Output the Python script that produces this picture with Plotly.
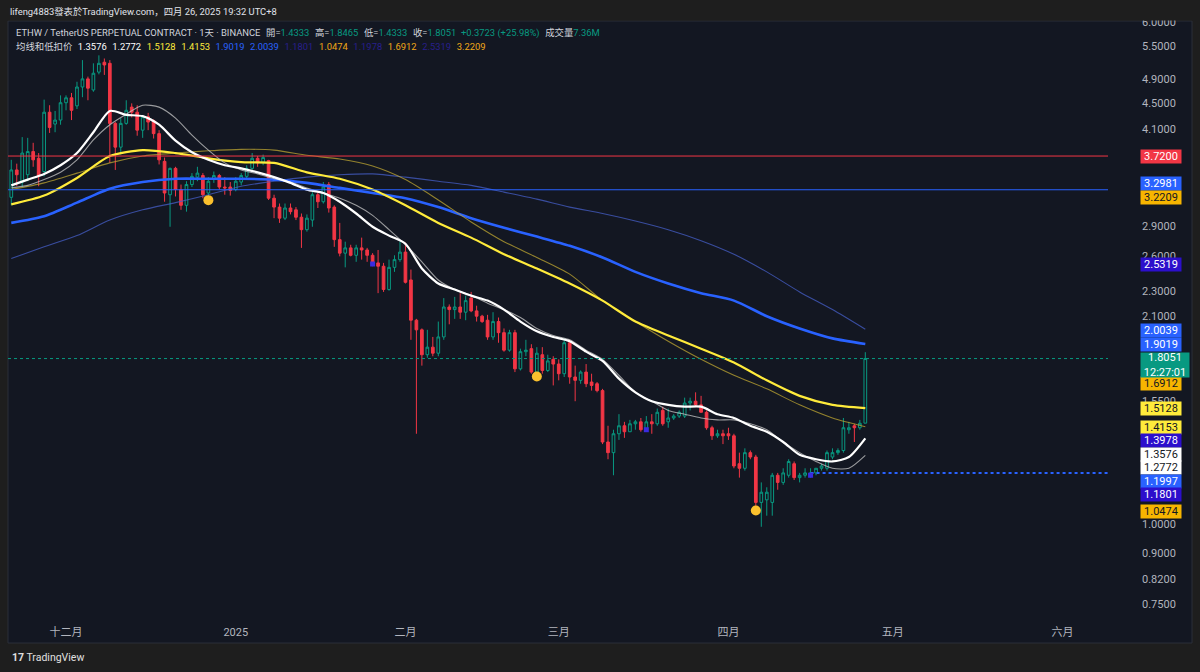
import numpy as np
import pandas as pd
import plotly.graph_objects as go

# ---------------- data ----------------
dates = pd.date_range("2024-11-21", "2025-04-26", freq="D")

open_ = [
    # Nov 21-30
    3.21, 3.54, 3.39, 3.48, 3.78, 3.69, 3.52, 4.35, 4.17, 4.23,
    # Dec
    4.50, 4.58, 4.45, 4.76, 4.90, 4.71, 5.02, 5.20, 5.18, 4.18,
    3.84, 4.18, 4.43, 4.35, 4.08, 4.28, 4.22, 4.03, 3.65, 3.24,
    3.56, 3.30, 3.12, 3.36, 3.45, 3.47, 3.26, 3.43, 3.47, 3.33, 3.33,
    # Jan
    3.30, 3.39, 3.46, 3.56, 3.69, 3.64, 3.66, 3.20, 3.10, 2.98,
    3.09, 3.07, 2.99, 2.86, 2.96, 3.24, 3.16, 3.36, 3.10, 2.76,
    2.63, 2.68, 2.61, 2.68, 2.66, 2.61, 2.54, 2.51, 2.31, 2.50, 2.57,
    # Feb
    2.64, 2.39, 2.07, 2.00, 1.83, 1.88, 1.84, 1.95, 2.17, 2.15,
    2.17, 2.13, 2.24, 2.14, 2.10, 2.07, 1.95, 2.06, 1.98, 1.86,
    1.98, 1.74, 1.85, 1.87, 1.72, 1.83, 1.73, 1.80,
    # Mar
    1.77, 1.71, 1.91, 1.69, 1.67, 1.72, 1.66, 1.65, 1.61, 1.34,
    1.29, 1.38, 1.42, 1.39, 1.43, 1.44, 1.40, 1.44, 1.43, 1.50,
    1.44, 1.46, 1.47, 1.47, 1.54, 1.55, 1.53, 1.49, 1.41, 1.37, 1.38,
    # Apr 1-26
    1.38, 1.37, 1.24, 1.22, 1.29, 1.27, 1.08, 1.09, 1.08, 1.19,
    1.16, 1.19, 1.24, 1.18, 1.19, 1.19, 1.20, 1.22, 1.22, 1.27,
    1.29, 1.30, 1.40, 1.42, 1.41, 1.4333,
]
high_ = [
    3.67, 3.62, 3.98, 3.97, 3.90, 3.76, 4.55, 4.46, 4.37, 4.62,
    4.62, 4.66, 4.85, 5.24, 4.94, 5.18, 5.33, 5.27, 5.24, 4.20,
    4.26, 4.54, 4.49, 4.46, 4.30, 4.34, 4.24, 4.08, 3.70, 3.57,
    3.58, 3.36, 3.40, 3.50, 3.58, 3.50, 3.45, 3.52, 3.49, 3.45, 3.39,
    3.45, 3.50, 3.60, 3.76, 3.72, 3.74, 3.67, 3.24, 3.14, 3.14,
    3.14, 3.10, 3.03, 3.02, 3.27, 3.27, 3.39, 3.39, 3.12, 2.93,
    2.74, 2.71, 2.71, 2.78, 2.68, 2.63, 2.66, 2.54, 2.57, 2.61, 2.74,
    2.73, 2.48, 2.08, 2.01, 2.00, 1.95, 2.06, 2.24, 2.19, 2.25,
    2.28, 2.26, 2.29, 2.18, 2.11, 2.11, 2.13, 2.09, 2.01, 2.00,
    2.00, 1.87, 1.93, 1.90, 1.88, 1.88, 1.83, 1.82,
    1.80, 1.94, 1.93, 1.76, 1.73, 1.77, 1.71, 1.66, 1.62, 1.42,
    1.40, 1.48, 1.44, 1.45, 1.45, 1.46, 1.47, 1.48, 1.51, 1.52,
    1.51, 1.48, 1.50, 1.57, 1.57, 1.60, 1.58, 1.50, 1.42, 1.40, 1.40,
    1.41, 1.38, 1.29, 1.31, 1.30, 1.28, 1.16, 1.14, 1.20, 1.20,
    1.22, 1.26, 1.25, 1.20, 1.22, 1.22, 1.22, 1.24, 1.30, 1.31,
    1.31, 1.46, 1.44, 1.43, 1.45, 1.8465,
]
low_ = [
    3.12, 3.34, 3.33, 3.40, 3.58, 3.34, 3.46, 4.04, 4.05, 4.16,
    4.38, 4.23, 4.40, 4.59, 4.54, 4.68, 4.98, 4.97, 3.63, 3.54,
    3.74, 4.16, 4.27, 4.00, 3.97, 4.08, 3.96, 3.61, 3.16, 2.89,
    3.22, 3.07, 3.05, 3.33, 3.40, 3.20, 3.21, 3.38, 3.30, 3.24, 3.23,
    3.28, 3.35, 3.42, 3.54, 3.58, 3.60, 3.18, 2.98, 2.93, 2.96,
    3.02, 2.96, 2.68, 2.84, 2.89, 3.09, 3.14, 3.04, 2.69, 2.60,
    2.50, 2.60, 2.55, 2.57, 2.55, 2.51, 2.28, 2.29, 2.30, 2.46, 2.55,
    2.36, 1.93, 1.38, 1.76, 1.81, 1.82, 1.82, 1.93, 2.04, 2.08,
    2.08, 2.07, 2.13, 2.06, 2.05, 1.93, 1.93, 1.91, 1.85, 1.85,
    1.72, 1.73, 1.82, 1.71, 1.71, 1.71, 1.72, 1.64,
    1.67, 1.69, 1.65, 1.55, 1.65, 1.63, 1.61, 1.60, 1.33, 1.26,
    1.19, 1.35, 1.36, 1.39, 1.40, 1.39, 1.39, 1.38, 1.42, 1.42,
    1.41, 1.45, 1.46, 1.46, 1.50, 1.52, 1.49, 1.40, 1.35, 1.36, 1.33,
    1.35, 1.22, 1.18, 1.21, 1.26, 1.06, 0.99, 1.03, 1.03, 1.13,
    1.15, 1.18, 1.17, 1.16, 1.18, 1.18, 1.19, 1.21, 1.21, 1.26,
    1.28, 1.29, 1.38, 1.34, 1.40, 1.4333,
]
close_ = [
    3.54, 3.48, 3.76, 3.78, 3.67, 3.46, 4.35, 4.12, 4.23, 4.50,
    4.58, 4.38, 4.76, 4.90, 4.74, 5.00, 5.18, 5.15, 4.18, 3.84,
    4.18, 4.38, 4.35, 4.08, 4.28, 4.20, 4.03, 3.67, 3.26, 3.56,
    3.30, 3.12, 3.36, 3.46, 3.50, 3.24, 3.40, 3.47, 3.33, 3.32, 3.29,
    3.40, 3.47, 3.56, 3.69, 3.63, 3.70, 3.20, 3.10, 2.98, 3.09,
    3.05, 2.99, 2.86, 2.98, 3.24, 3.16, 3.33, 3.09, 2.76, 2.63,
    2.68, 2.61, 2.68, 2.66, 2.61, 2.53, 2.51, 2.31, 2.50, 2.57, 2.64,
    2.37, 2.07, 2.00, 1.83, 1.88, 1.84, 1.95, 2.17, 2.15, 2.17,
    2.13, 2.22, 2.14, 2.10, 2.06, 1.95, 2.06, 1.98, 1.86, 1.98,
    1.74, 1.85, 1.86, 1.72, 1.84, 1.73, 1.79, 1.77,
    1.71, 1.91, 1.69, 1.67, 1.72, 1.65, 1.64, 1.61, 1.34, 1.29,
    1.38, 1.42, 1.39, 1.43, 1.44, 1.40, 1.44, 1.43, 1.49, 1.43,
    1.46, 1.47, 1.49, 1.54, 1.55, 1.53, 1.49, 1.41, 1.37, 1.38, 1.37,
    1.37, 1.23, 1.22, 1.29, 1.27, 1.08, 1.12, 1.12, 1.19, 1.16,
    1.20, 1.25, 1.18, 1.19, 1.20, 1.20, 1.22, 1.23, 1.29, 1.29,
    1.30, 1.41, 1.41, 1.41, 1.4328, 1.8051,
]
volume_text = "7.36M"
countdown = "12:27:01"

ma_dates_3d = pd.date_range("2024-11-21", "2025-04-26", freq="3D")
ma_dates_6d = pd.date_range("2024-11-21", "2025-04-26", freq="6D")
ma_white = [3.35, 3.42, 3.49, 3.60, 3.76, 4.05, 4.37, 4.31, 4.29, 4.16,
            3.93, 3.77, 3.67, 3.60, 3.56, 3.51, 3.45, 3.38, 3.30, 3.26,
            3.16, 3.03, 2.89, 2.80, 2.72, 2.49, 2.36, 2.31, 2.26, 2.22,
            2.15, 2.06, 1.99, 1.95, 1.92, 1.85, 1.79, 1.68, 1.60, 1.55,
            1.53, 1.52, 1.52, 1.48, 1.46, 1.42, 1.39, 1.34, 1.28, 1.26,
            1.25, 1.27, 1.3576]
ma_gray = [3.32, 3.35, 3.42, 3.51, 3.67, 3.94, 4.16, 4.32, 4.46, 4.43,
           4.26, 4.01, 3.80, 3.63, 3.54, 3.49, 3.43, 3.39, 3.32, 3.26,
           3.20, 3.12, 3.01, 2.86, 2.71, 2.55, 2.39, 2.31, 2.26, 2.20,
           2.15, 2.09, 2.01, 1.96, 1.93, 1.86, 1.80, 1.70, 1.60, 1.55,
           1.50, 1.48, 1.46, 1.45, 1.45, 1.43, 1.40, 1.34, 1.29, 1.25,
           1.22, 1.22, 1.2772]
ma_yellow = [3.13, 3.23, 3.44, 3.72, 3.80, 3.76, 3.69, 3.64, 3.63, 3.51,
             3.43, 3.30, 3.12, 2.93, 2.78, 2.62, 2.49, 2.36, 2.22, 2.06,
             1.96, 1.87, 1.78, 1.67, 1.58, 1.53, 1.5128]
ma_olive = [3.30, 3.38, 3.50, 3.63, 3.72, 3.76, 3.79, 3.81, 3.80, 3.73,
            3.68, 3.59, 3.42, 3.18, 2.94, 2.74, 2.59, 2.44, 2.22, 2.06,
            1.92, 1.80, 1.70, 1.62, 1.53, 1.46, 1.4153]
ma_blue = [2.93, 3.00, 3.15, 3.31, 3.39, 3.43, 3.43, 3.43, 3.42, 3.38,
           3.32, 3.26, 3.20, 3.10, 2.98, 2.88, 2.79, 2.70, 2.59, 2.46,
           2.36, 2.28, 2.22, 2.10, 2.01, 1.94, 1.9019]
ma_blue_thin = [2.58, 2.69, 2.80, 2.96, 3.07, 3.15, 3.24, 3.34, 3.40, 3.45,
                3.48, 3.49, 3.45, 3.40, 3.35, 3.27, 3.19, 3.10, 3.03, 2.95,
                2.86, 2.75, 2.62, 2.46, 2.29, 2.15, 2.0039]

# horizontal levels
level_red = 3.72
level_blue = 3.2981
level_support = 1.1997
support_start = "2025-04-16"

# markers
low_dot_dates = ["2024-12-27", "2025-02-25", "2025-04-06"]
mark_dates = ["2025-01-26", "2025-03-17", "2025-04-16"]

# axes
month_ticks = ["2024-12-01", "2025-01-01", "2025-02-01", "2025-03-01",
               "2025-04-01", "2025-05-01", "2025-06-01"]
month_text = ["十二月", "2025", "二月", "三月", "四月", "五月", "六月"]
price_ticks = [6.0, 5.5, 4.9, 4.5, 4.1, 2.9, 2.6, 2.3, 2.1, 1.55, 1.0, 0.9, 0.82, 0.75]

# right-hand price labels
label_values = [3.72, 3.2981, 3.2209, 2.5319, 2.0039, 1.9019, 1.6912, 1.5128,
                1.4153, 1.3978, 1.3576, 1.2772, 1.1997, 1.1801, 1.0474]
label_bg = ["#f23645", "#2962ff", "#f7b500", "#2c0fcc", "#2962ff", "#2962ff", "#f7b500",
            "#ffeb3b", "#ffeb3b", "#2c0fcc", "#ffffff", "#ffffff", "#2962ff", "#2c0fcc", "#f7b500"]
label_fg = ["#ffffff", "#ffffff", "#131722", "#ffffff", "#ffffff", "#ffffff", "#131722",
            "#131722", "#131722", "#ffffff", "#131722", "#131722", "#ffffff", "#ffffff", "#131722"]

# indicator legend row
legend_values = ["1.3576", "1.2772", "1.5128", "1.4153", "1.9019", "2.0039",
                 "1.1801", "1.0474", "1.1978", "1.6912", "2.5319", "3.2209"]
legend_colors = ["#ffffff", "#ffffff", "#ffeb3b", "#ffeb3b", "#2962ff", "#2962ff",
                 "#281f8c", "#f0a818", "#281f8c", "#f0a818", "#281f8c", "#f0a818"]

# ---------------- style ----------------
W, H = 1200, 672
ML, MR, MT, MB = 8, 92, 21, 52
PW, PH = W - ML - MR, H - MT - MB
BG_OUT = "#1e1e1e"
BG_PANEL = "#131722"
TXT = "#d1d4dc"
AX = "#b2b5be"
UP, DOWN = "#089981", "#f23645"
FONT = "Roboto, 'Noto Sans CJK SC', sans-serif"
HEAD_SIZE = 9.4

y_r0, y_r1 = np.log10(0.7097), np.log10(6.025)
x_r0, x_r1 = "2024-11-20 09:36", "2025-06-09 07:55"


def ypix(v):
    return MT + (y_r1 - np.log10(v)) * PH / (y_r1 - y_r0)


def ppaper(pix):
    return (H - MB - pix) / PH


def xpaper(pix):
    return (pix - ML) / PW


fig = go.Figure()

fig.add_trace(go.Candlestick(
    x=dates, open=open_, high=high_, low=low_, close=close_,
    increasing=dict(line=dict(color=UP, width=1), fillcolor="rgba(0,0,0,0)"),
    decreasing=dict(line=dict(color=DOWN, width=1), fillcolor=DOWN),
    whiskerwidth=0, hoverinfo="skip", showlegend=False))

line_specs = [
    (ma_dates_6d, ma_blue_thin, "rgba(70,95,200,0.75)", 1.1),
    (ma_dates_6d, ma_blue, "#2962ff", 2.6),
    (ma_dates_6d, ma_olive, "rgba(190,165,50,0.75)", 1.1),
    (ma_dates_6d, ma_yellow, "#ffeb3b", 2.2),
    (ma_dates_3d, ma_gray, "rgba(200,200,200,0.75)", 1.1),
    (ma_dates_3d, ma_white, "#ffffff", 2.2),
]
for xs, ys, col, w in line_specs:
    fig.add_trace(go.Scatter(x=xs, y=ys, mode="lines", hoverinfo="skip",
                             line=dict(color=col, width=w, shape="spline", smoothing=0.7),
                             showlegend=False))

# horizontal levels
for val, col, dash, w, x0 in [
    (level_red, "#f23645", "solid", 1, x_r0),
    (level_blue, "#2962ff", "solid", 1, x_r0),
    (close_[-1], UP, "dot", 1, x_r0),
    (level_support, "#2962ff", "dot", 2, support_start),
]:
    fig.add_trace(go.Scatter(x=[x0, x_r1], y=[val, val], mode="lines", hoverinfo="skip",
                             line=dict(color=col, width=w, dash=dash), showlegend=False))

# low markers
idx = {d.strftime("%Y-%m-%d"): i for i, d in enumerate(dates)}
fig.add_trace(go.Scatter(
    x=low_dot_dates, y=[low_[idx[d]] * 0.99 for d in low_dot_dates], mode="markers",
    marker=dict(color="#fbc02d", size=10), hoverinfo="skip", showlegend=False))
fig.add_trace(go.Scatter(
    x=mark_dates, y=[min(open_[idx[d]], close_[idx[d]]) for d in mark_dates], mode="markers",
    marker=dict(color="#3a2be0", size=5, symbol="square"), hoverinfo="skip", showlegend=False))

# ---------------- price labels (stacked like TradingView) ----------------
LH = 13.5
ann = []
last = close_[-1]
last_top = ypix(last) - 6.75
last_h = 24
tops = {}
bound = last_top
for v in sorted([v for v in label_values if v > last]):
    top = ypix(v) - LH / 2
    if top + LH > bound:
        top = bound - LH
    tops[v] = top
    bound = top
bound = last_top + last_h
for v in sorted([v for v in label_values if v < last], reverse=True):
    top = ypix(v) - LH / 2
    if top < bound:
        top = bound
    tops[v] = top
    bound = top + LH

BOX_X = xpaper(1140)
for v, bg, fg in zip(label_values, label_bg, label_fg):
    ann.append(dict(xref="paper", yref="paper", x=BOX_X, y=ppaper(tops[v]),
                    xanchor="left", yanchor="top", text=f"{v:.4f}", showarrow=False,
                    bgcolor=bg, font=dict(color=fg, size=11, family=FONT),
                    width=40, height=13, borderpad=0, align="center"))
ann.append(dict(xref="paper", yref="paper", x=BOX_X, y=ppaper(last_top),
                xanchor="left", yanchor="top", text=f"{last:.4f}<br>{countdown}",
                showarrow=False, bgcolor=UP, font=dict(color="#ffffff", size=11, family=FONT),
                width=48, height=last_h, borderpad=0, align="center"))

# ---------------- header texts ----------------
chg = close_[-1] - close_[-2]
pct = chg / close_[-2] * 100
sp = "\u00a0"
gap = sp * 2 + "\u200a"


def c(t, col):
    return f"<span style='color:{col}'>{t}</span>"


line1 = (f"ETHW / TetherUS PERPETUAL CONTRACT · 1天 · BINANCE{gap}"
         f"開={c(f'{open_[-1]:.4f}', UP)}{gap}高={c(f'{high_[-1]:.4f}', UP)}{gap}"
         f"低={c(f'{low_[-1]:.4f}', UP)}{gap}收={c(f'{close_[-1]:.4f}', UP)}{sp}{sp}"
         f"{c(f'+{chg:.4f} (+{pct:.2f}%)', UP)}{gap}成交量{c(volume_text, UP)}")
line2 = "均线和低扣价" + "".join(f"{gap}{c(v, col)}" for v, col in zip(legend_values, legend_colors))

ann += [
    dict(xref="paper", yref="paper", x=xpaper(8), y=ppaper(11), xanchor="left", yanchor="middle",
         text="lifeng4883發表於TradingView.com，四月 26, 2025 19:32 UTC+8", showarrow=False,
         font=dict(color="#e0e3eb", size=HEAD_SIZE, family=FONT)),
    dict(xref="paper", yref="paper", x=xpaper(14), y=ppaper(33), xanchor="left", yanchor="middle",
         text=line1, showarrow=False, font=dict(color=TXT, size=HEAD_SIZE, family=FONT)),
    dict(xref="paper", yref="paper", x=xpaper(14), y=ppaper(46), xanchor="left", yanchor="middle",
         text=line2, showarrow=False, font=dict(color=TXT, size=HEAD_SIZE, family=FONT)),
    dict(xref="paper", yref="paper", x=xpaper(10), y=ppaper(657), xanchor="left", yanchor="middle",
         text="<b>17</b> TradingView", showarrow=False,
         font=dict(color="#e0e0e0", size=10.5, family=FONT)),
]

shapes = [
    dict(type="rect", xref="paper", yref="paper", x0=xpaper(8), x1=xpaper(1192),
         y0=ppaper(643), y1=ppaper(21), fillcolor=BG_PANEL,
         line=dict(color="#2a2e39", width=1), layer="below"),
    dict(type="rect", xref="paper", yref="paper", x0=xpaper(0), x1=xpaper(1200),
         y0=ppaper(20.5), y1=ppaper(0), fillcolor=BG_OUT, line=dict(width=0), layer="above"),
]

fig.update_layout(
    width=W, height=H, autosize=False,
    margin=dict(l=ML, r=MR, t=MT, b=MB, pad=0),
    paper_bgcolor=BG_OUT, plot_bgcolor=BG_PANEL,
    showlegend=False, hovermode=False, dragmode=False,
    font=dict(family=FONT, color=AX, size=11),
    xaxis=dict(type="date", range=[x_r0, x_r1], rangeslider=dict(visible=False),
               showgrid=False, zeroline=False, showline=False,
               tickmode="array", tickvals=month_ticks, ticktext=month_text,
               ticks="", ticklabelstandoff=4, tickfont=dict(color=AX, size=11, family=FONT)),
    yaxis=dict(type="log", side="right", range=[y_r0, y_r1],
               showgrid=False, zeroline=False, showline=False,
               tickmode="array", tickvals=price_ticks,
               ticktext=[f"{v:.4f}" for v in price_ticks], ticks="",
               ticklabelstandoff=33, tickfont=dict(color=AX, size=11, family=FONT)),
    annotations=ann, shapes=shapes,
)

fig.write_html("out.html")
